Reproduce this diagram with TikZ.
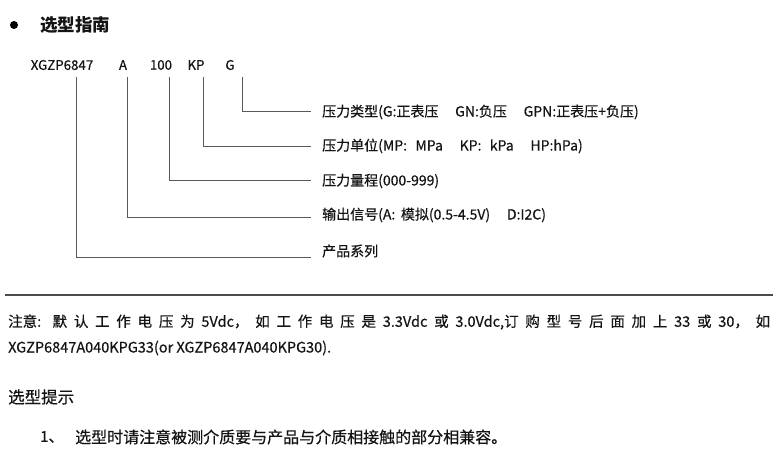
\documentclass[tikz,border=0pt]{standalone}
\usepackage{fontspec}
\setmainfont{Noto Sans CJK SC}
\newfontfamily\medfont{Noto Sans CJK SC}[FakeBold=0.5]
\begin{document}
\begin{tikzpicture}[x=1pt,y=-1pt,
  txt/.style={inner sep=0pt,text=black!92,font=\medfont\fontsize{14}{16}\selectfont},
  codetxt/.style={txt,anchor=center,font=\medfont\fontsize{13.3}{15}\selectfont},
  lbl/.style={txt,anchor=west},
  conn/.style={draw=black!65,line width=1pt}]
\useasboundingbox (0,0) rectangle (780,449);
% title
\fill[black] (14,25) circle (4);
\node[txt,anchor=west,font=\fontsize{17.5}{19}\selectfont\bfseries] (title) at (40,25) {选型指南};
% code
\node[codetxt] (c1) at (62,65) {XGZP6847};
\node[codetxt] (c2) at (123,65) {A};
\node[codetxt] (c3) at (161,65) {100};
\node[codetxt] (c4) at (196,65) {KP};
\node[codetxt] (c5) at (230,65) {G};
% labels
\node[lbl] (l1) at (322,112) {压力类型(G:正表压\hspace{1.2em}GN:负压\hspace{1.2em}GPN:正表压+负压)};
\node[lbl] (l2) at (322,146) {压力单位(MP:\hspace{0.6em}MPa\hspace{1.2em}KP:\hspace{0.6em}kPa\hspace{1.2em}HP:hPa)};
\node[lbl] (l3) at (322,181) {压力量程(000-999)};
\node[lbl] (l4) at (322,215) {输出信号(A:\hspace{0.4em}模拟(0.5-4.5V)\hspace{1.2em}D:I2C)};
\node[lbl] (l5) at (322,251) {产品系列};
% connector coordinates
\coordinate (v5) at (242,77); \coordinate (e1) at (311,112);
\coordinate (v4) at (203,77); \coordinate (e2) at (311,147);
\coordinate (v3) at (169,77); \coordinate (e3) at (311,181);
\coordinate (v2) at (127,77); \coordinate (e4) at (311,218);
\coordinate (v1) at (76,77);  \coordinate (e5) at (311,258);
\draw[conn] (v5) |- (e1);
\draw[conn] (v4) |- (e2);
\draw[conn] (v3) |- (e3);
\draw[conn] (v2) |- (e4);
\draw[conn] (v1) |- (e5);
% separator
\coordinate (s1) at (5,295); \coordinate (s2) at (773,295);
\draw[draw=black!70,line width=2pt] (s1) -- (s2);
% note
\node[txt,anchor=west,font=\medfont\fontsize{14.5}{16}\selectfont] (n1) at (8,322) {\makebox[762pt][s]{注意: 默 认 工 作 电 压 为 5Vdc， 如 工 作 电 压 是 3.3Vdc 或 3.0Vdc,订 购 型 号 后 面 加 上 33 或 30， 如}};
\node[txt,anchor=west,font=\medfont\fontsize{14.5}{16}\selectfont] (n2) at (8,348) {XGZP6847A040KPG33(or XGZP6847A040KPG30).};
% tips
\node[txt,anchor=west,font=\medfont\fontsize{16.5}{18}\selectfont] (tip) at (8,397) {选型提示};
\node[txt,anchor=west,font=\medfont\fontsize{15}{17}\selectfont] (t1) at (40,437) {1、};
\node[txt,anchor=west,font=\medfont\fontsize{16}{17}\selectfont] (t2) at (75,437) {选型时请注意被测介质要与产品与介质相接触的部分相兼容。};
\end{tikzpicture}
\end{document}
